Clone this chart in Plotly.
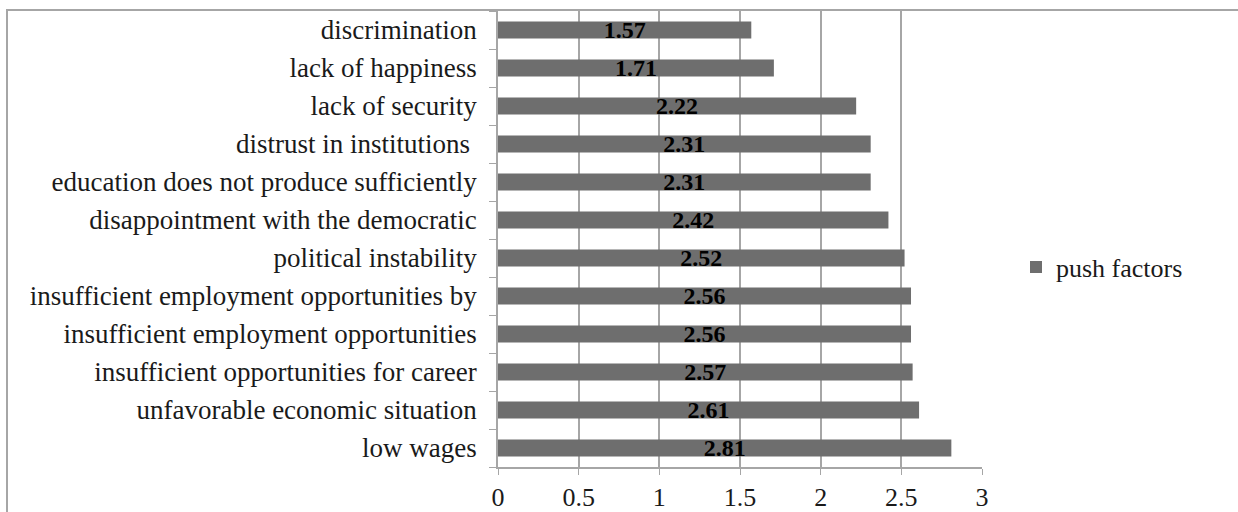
import plotly.graph_objects as go

categories = [
    "low wages",
    "unfavorable economic situation",
    "insufficient opportunities for career",
    "insufficient employment opportunities",
    "insufficient employment opportunities by",
    "political instability",
    "disappointment with the democratic",
    "education does not produce sufficiently",
    "distrust in institutions\u00a0",
    "lack of security",
    "lack of happiness",
    "discrimination",
]
push_factors = [2.81, 2.61, 2.57, 2.56, 2.56, 2.52, 2.42, 2.31, 2.31, 2.22, 1.71, 1.57]
x_ticks = [0, 0.5, 1, 1.5, 2, 2.5, 3]
x_tick_labels = ["0", "0.5", "1", "1.5", "2", "2.5", "3"]

W, H = 1238, 512
L, R, T, B = 498, W - 982, 11, H - 467
pw, ph = W - L - R, H - T - B
SERIF = "Liberation Serif, Times New Roman, serif"

fig = go.Figure()
fig.add_trace(go.Bar(
    y=categories, x=push_factors, orientation="h", name="push factors",
    marker=dict(color="#6e6e6e", line=dict(width=0)),
    width=0.45,
    text=[f"{v:.2f}" for v in push_factors],
    textposition="inside", insidetextanchor="middle", constraintext="none",
    textfont=dict(family=SERIF, size=24, color="black", weight="bold"),
    cliponaxis=False,
))

fig.update_layout(
    width=W, height=H,
    margin=dict(l=L, r=R, t=T, b=B, pad=0, autoexpand=False),
    paper_bgcolor="white", plot_bgcolor="white",
    font=dict(family=SERIF, size=26, color="#1a1a1a"),
    showlegend=True,
    legend=dict(x=(1016 - L) / pw, y=(H - B - 267) / ph, xanchor="left", yanchor="middle",
                font=dict(family=SERIF, size=26, color="#1a1a1a"), bgcolor="rgba(0,0,0,0)",
                itemwidth=30),
    xaxis=dict(range=[0, 3], tickvals=x_ticks, ticktext=x_tick_labels,
               showgrid=True, gridcolor="#a6a6a6", gridwidth=1.5,
               showline=True, linecolor="#a6a6a6", linewidth=1.5,
               ticks="outside", ticklen=6, tickcolor="#a6a6a6",
               zeroline=False, ticklabelstandoff=0, automargin=False,
               tickfont=dict(family=SERIF, size=26)),
    yaxis=dict(type="category", showgrid=False,
               showline=True, linecolor="#a6a6a6", linewidth=1.5,
               ticks="outside", tickson="boundaries", ticklen=7, tickcolor="#a6a6a6",
               ticklabelstandoff=14, range=[-0.5, len(categories) - 0.5],
               automargin=False, tickfont=dict(family=SERIF, size=27)),
    shapes=[dict(type="rect", xref="paper", yref="paper",
                 x0=(7 - L) / pw, x1=(1260 - L) / pw,
                 y0=(H - B - 530) / ph, y1=(H - B - 10) / ph,
                 line=dict(color="#a6a6a6", width=2), fillcolor="rgba(0,0,0,0)",
                 layer="below")],
)

fig.write_html("out.html")
